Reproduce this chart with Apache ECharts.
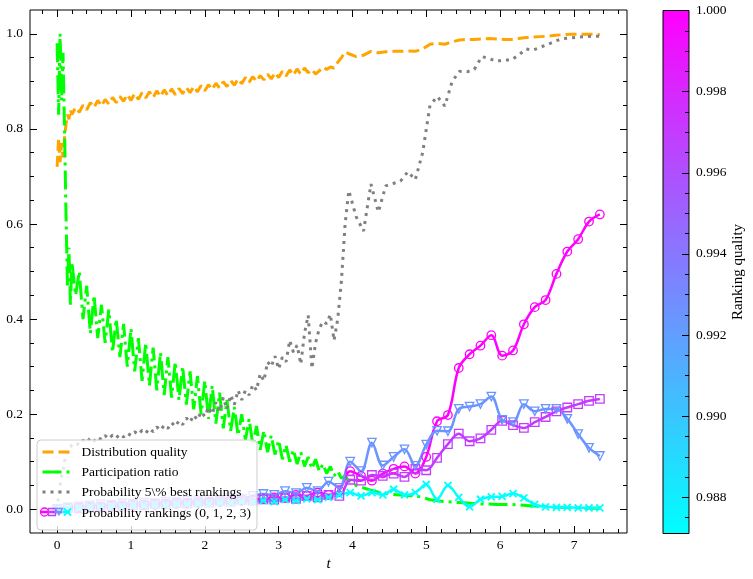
<!DOCTYPE html>
<html>
<head>
<meta charset="UTF-8">
<script src="https://cdn.jsdelivr.net/npm/echarts@6/dist/echarts.min.js"></script>
<style>
  html, body { margin: 0; padding: 0; background: #fff; }
  #chart { width: 753px; height: 579px; }
</style>
</head>
<body>
<div id="chart"></div>
<script>
// sample times of the noisy curves
var tDense = [0, 0.02, 0.04, 0.06, 0.08, 0.1, 0.12, 0.14, 0.16, 0.18, 0.2,
  0.25, 0.3, 0.35, 0.4, 0.45, 0.5, 0.55, 0.6, 0.65, 0.7, 0.75, 0.8, 0.85, 0.9, 0.95,
  1.0, 1.05, 1.1, 1.15, 1.2, 1.25, 1.3, 1.35, 1.4, 1.45, 1.5, 1.55, 1.6, 1.65, 1.7, 1.75, 1.8, 1.85, 1.9, 1.95,
  2.0, 2.05, 2.1, 2.15, 2.2, 2.25, 2.3, 2.35, 2.4, 2.45, 2.5, 2.55, 2.6, 2.65, 2.7, 2.75, 2.8, 2.85, 2.9, 2.95,
  3.0, 3.05, 3.1, 3.15, 3.2, 3.25, 3.3, 3.35, 3.4, 3.45, 3.5, 3.55, 3.6, 3.65, 3.7, 3.75, 3.8, 3.85, 3.9, 3.95,
  4.05, 4.15, 4.25, 4.35, 4.45, 4.55, 4.65, 4.75, 4.85, 4.95, 5.05, 5.15, 5.25, 5.35, 5.45, 5.55, 5.65,
  5.75, 5.85, 5.95, 6.05, 6.15, 6.25, 6.35, 6.45, 6.55, 6.65, 6.75, 6.85, 6.95, 7.05, 7.15, 7.25, 7.35];

var distQuality = [0.72, 0.78, 0.73, 0.77, 0.74, 0.78, 0.81, 0.83, 0.82, 0.84, 0.83,
  0.845, 0.835, 0.850, 0.840, 0.855, 0.845, 0.860, 0.848, 0.862, 0.852, 0.866, 0.855, 0.868, 0.858, 0.872,
  0.860, 0.874, 0.862, 0.876, 0.865, 0.878, 0.866, 0.880, 0.868, 0.882, 0.870, 0.884, 0.872, 0.885, 0.874, 0.887, 0.876, 0.889, 0.878, 0.891,
  0.880, 0.893, 0.883, 0.896, 0.886, 0.899, 0.889, 0.902, 0.892, 0.905, 0.895, 0.908, 0.898, 0.910, 0.900, 0.912, 0.903, 0.915, 0.905, 0.918,
  0.908, 0.921, 0.911, 0.924, 0.913, 0.926, 0.915, 0.928, 0.918, 0.925, 0.915, 0.922, 0.930, 0.925, 0.930, 0.928, 0.940, 0.950, 0.962, 0.958,
  0.952, 0.955, 0.963, 0.960, 0.962, 0.963, 0.963, 0.964, 0.963, 0.968, 0.978, 0.980, 0.978, 0.983, 0.987, 0.988, 0.988,
  0.989, 0.990, 0.989, 0.988, 0.988, 0.990, 0.992, 0.993, 0.994, 0.995, 0.997, 0.998, 0.999, 0.999, 0.999, 0.999, 0.998];

var partRatio = [0.98, 0.83, 1.00, 0.86, 0.96, 0.80, 0.62, 0.47, 0.55, 0.43, 0.52,
  0.45, 0.50, 0.40, 0.47, 0.37, 0.45, 0.36, 0.43, 0.35, 0.42, 0.33, 0.40, 0.32, 0.39, 0.30,
  0.38, 0.29, 0.36, 0.27, 0.35, 0.26, 0.34, 0.25, 0.33, 0.24, 0.32, 0.235, 0.31, 0.23, 0.30, 0.22, 0.29, 0.21, 0.28, 0.20,
  0.27, 0.19, 0.26, 0.18, 0.245, 0.17, 0.23, 0.165, 0.215, 0.155, 0.20, 0.145, 0.19, 0.135, 0.175, 0.125, 0.165, 0.12, 0.155, 0.115,
  0.145, 0.105, 0.135, 0.10, 0.125, 0.095, 0.12, 0.09, 0.11, 0.085, 0.105, 0.08, 0.095, 0.075, 0.09, 0.07, 0.08, 0.065, 0.07, 0.06,
  0.05, 0.045, 0.04, 0.036, 0.033, 0.031, 0.03, 0.029, 0.028, 0.025, 0.02, 0.018, 0.016, 0.015, 0.014, 0.013, 0.012,
  0.011, 0.011, 0.010, 0.010, 0.010, 0.009, 0.008, 0.007, 0.006, 0.005, 0.004, 0.004, 0.003, 0.003, 0.002, 0.002, 0.002];

var probBest = [0.00, 0.03, 0.05, 0.07, 0.08, 0.10, 0.11, 0.12, 0.125, 0.13, 0.135,
  0.140, 0.135, 0.145, 0.140, 0.150, 0.143, 0.152, 0.146, 0.155, 0.148, 0.156, 0.150, 0.158, 0.152, 0.160,
  0.155, 0.163, 0.157, 0.166, 0.160, 0.170, 0.163, 0.173, 0.166, 0.177, 0.170, 0.182, 0.174, 0.186, 0.178, 0.192, 0.183, 0.198, 0.188, 0.205,
  0.195, 0.215, 0.200, 0.225, 0.205, 0.235, 0.210, 0.240, 0.220, 0.250, 0.230, 0.250, 0.240, 0.262, 0.250, 0.285, 0.270, 0.310, 0.300, 0.322,
  0.295, 0.320, 0.310, 0.355, 0.330, 0.345, 0.305, 0.370, 0.408, 0.296, 0.350, 0.380, 0.395, 0.390, 0.410, 0.355, 0.400, 0.480, 0.600, 0.670,
  0.615, 0.585, 0.684, 0.625, 0.680, 0.685, 0.690, 0.710, 0.693, 0.750, 0.850, 0.868, 0.848, 0.900, 0.921, 0.920, 0.925,
  0.952, 0.948, 0.942, 0.945, 0.945, 0.955, 0.968, 0.966, 0.972, 0.978, 0.985, 0.990, 0.991, 0.993, 0.994, 0.995, 0.995];

// sample times of the ranking curves (one marker each)
var tRank = [0, 0.147, 0.294, 0.441, 0.588, 0.735, 0.882, 1.029, 1.176, 1.323, 1.47, 1.617, 1.764, 1.911,
  2.058, 2.205, 2.352, 2.499, 2.646, 2.793, 2.94, 3.087, 3.234, 3.381, 3.528, 3.675, 3.822, 3.969,
  4.116, 4.263, 4.41, 4.557, 4.704, 4.851, 4.998, 5.145, 5.292, 5.439, 5.586, 5.733, 5.88, 6.027,
  6.174, 6.321, 6.468, 6.615, 6.762, 6.909, 7.056, 7.203, 7.35];

var rank0 = [0.000, 0.002, 0.004, 0.003, 0.006, 0.005, 0.008, 0.007, 0.010, 0.009, 0.012, 0.011, 0.014, 0.013,
  0.016, 0.015, 0.018, 0.017, 0.020, 0.022, 0.025, 0.024, 0.030, 0.028, 0.035, 0.030, 0.040, 0.080,
  0.070, 0.060, 0.075, 0.085, 0.090, 0.075, 0.110, 0.185, 0.198, 0.297, 0.326, 0.344, 0.366, 0.323,
  0.334, 0.389, 0.425, 0.440, 0.495, 0.542, 0.568, 0.605, 0.620];
var rank1 = [0.000, 0.003, 0.002, 0.005, 0.004, 0.007, 0.006, 0.009, 0.008, 0.011, 0.010, 0.013, 0.012, 0.015,
  0.014, 0.017, 0.016, 0.019, 0.018, 0.021, 0.020, 0.024, 0.022, 0.028, 0.025, 0.030, 0.028, 0.062,
  0.060, 0.072, 0.070, 0.075, 0.068, 0.085, 0.082, 0.108, 0.137, 0.159, 0.143, 0.149, 0.167, 0.186,
  0.177, 0.171, 0.183, 0.194, 0.206, 0.214, 0.221, 0.228, 0.232];
var rank2 = [0.000, 0.004, 0.006, 0.008, 0.010, 0.009, 0.012, 0.011, 0.014, 0.013, 0.016, 0.015, 0.018, 0.017,
  0.020, 0.019, 0.024, 0.022, 0.028, 0.032, 0.030, 0.038, 0.034, 0.045, 0.038, 0.058, 0.045, 0.100,
  0.080, 0.140, 0.092, 0.110, 0.126, 0.091, 0.136, 0.165, 0.164, 0.211, 0.216, 0.221, 0.237, 0.188,
  0.183, 0.221, 0.206, 0.211, 0.211, 0.190, 0.158, 0.129, 0.112];
var rank3 = [0.000, 0.003, 0.002, 0.005, 0.004, 0.006, 0.005, 0.008, 0.007, 0.009, 0.008, 0.011, 0.010, 0.012,
  0.011, 0.014, 0.013, 0.016, 0.015, 0.018, 0.016, 0.020, 0.018, 0.022, 0.020, 0.025, 0.030, 0.035,
  0.028, 0.035, 0.030, 0.042, 0.030, 0.035, 0.052, 0.021, 0.050, 0.025, 0.005, 0.021, 0.026, 0.027,
  0.033, 0.024, 0.010, 0.005, 0.004, 0.004, 0.003, 0.003, 0.003];

// ranking quality of each ranking curve (colorbar value)
var rankQuality = [1.0, 0.997, 0.9925, 0.98711];
var cbMin = 0.98711, cbMax = 1.0;

// ticks
var xMajor = [0, 1, 2, 3, 4, 5, 6, 7];
var xMinor = [-0.2, 0.2, 0.4, 0.6, 0.8, 1.2, 1.4, 1.6, 1.8, 2.2, 2.4, 2.6, 2.8, 3.2, 3.4, 3.6, 3.8,
  4.2, 4.4, 4.6, 4.8, 5.2, 5.4, 5.6, 5.8, 6.2, 6.4, 6.6, 6.8, 7.2, 7.4, 7.6];
var yMajor = [0, 0.2, 0.4, 0.6, 0.8, 1.0];
var yMinor = [0.05, 0.1, 0.15, 0.25, 0.3, 0.35, 0.45, 0.5, 0.55, 0.65, 0.7, 0.75, 0.85, 0.9, 0.95];
var cbMajor = [0.988, 0.990, 0.992, 0.994, 0.996, 0.998, 1.000];
var cbMinor = [0.9875, 0.9885, 0.989, 0.9895, 0.9905, 0.991, 0.9915, 0.9925, 0.993, 0.9935,
  0.9945, 0.995, 0.9955, 0.9965, 0.997, 0.9975, 0.9985, 0.999, 0.9995];

var serif = '"Liberation Serif", "DejaVu Serif", serif';
var xMin = -0.3675, xMax = 7.7175, yMin = -0.05, yMax = 1.05;

function pairs(ts, vs) {
  return ts.map(function (t, i) { return [t, vs[i]]; });
}
// matplotlib "cool" colormap
function coolColor(q) {
  var f = (q - cbMin) / (cbMax - cbMin);
  f = Math.max(0, Math.min(1, f));
  return 'rgb(' + Math.round(255 * f) + ',' + Math.round(255 * (1 - f)) + ',255)';
}
var rc = rankQuality.map(coolColor);

function tickAxis(dim, grid, pos, vals, len, labels, extra) {
  var ax = {
    type: 'value', gridIndex: grid, position: pos,
    min: dim === 'x' ? xMin : yMin, max: dim === 'x' ? xMax : yMax,
    axisLine: { show: false, onZero: false }, splitLine: { show: false },
    axisTick: { show: true, inside: true, length: len, customValues: vals, lineStyle: { color: '#000', width: 1 } },
    axisLabel: { show: labels, customValues: vals, color: '#000', fontFamily: serif, fontSize: 13.5 },
    z: 5
  };
  return Object.assign(ax, extra || {});
}

var gridRect = { left: 30, top: 10, width: 597, height: 523 };
var cbRect = { left: 663, top: 10.5, width: 26, height: 523 };

var chart = echarts.init(document.getElementById('chart'));

var rankNames = ['Probability rankings (0, 1, 2, 3)', 'rank 1', 'rank 2', 'rank 3'];
var rankData = [rank0, rank1, rank2, rank3];
var rankSymbols = ['circle', 'rect', 'triangle', 'path://M0,0L10,10M10,0L0,10'];
var rankSeries = rankData.map(function (d, i) {
  return {
    type: 'line', name: rankNames[i], xAxisIndex: 0, yAxisIndex: 0,
    data: pairs(tRank, d), smooth: 0.35,
    symbol: rankSymbols[i], symbolSize: i === 3 ? 7 : 8.5, symbolRotate: i === 2 ? 180 : 0,
    showSymbol: true, showAllSymbol: true,
    lineStyle: { color: rc[i], width: 2.5 },
    itemStyle: { color: 'rgba(0,0,0,0)', borderColor: rc[i], borderWidth: i === 3 ? 1.8 : 1.3 },
    z: 3
  };
});

var ly = 440 + 5 + 3 * 20 + 7;  // centre of the 4th legend row
var legendIcon = [
  { type: 'line', shape: { x1: 41, y1: ly, x2: 48, y2: ly }, style: { stroke: rc[0], lineWidth: 2.5 } },
  { type: 'circle', shape: { cx: 44.5, cy: ly, r: 4 }, style: { stroke: rc[0], fill: 'rgba(0,0,0,0)', lineWidth: 1.3 } },
  { type: 'line', shape: { x1: 48, y1: ly, x2: 55, y2: ly }, style: { stroke: rc[1], lineWidth: 2.5 } },
  { type: 'rect', shape: { x: 48.5, y: ly - 3.5, width: 7, height: 7 }, style: { stroke: rc[1], fill: 'rgba(0,0,0,0)', lineWidth: 1.3 } },
  { type: 'line', shape: { x1: 55, y1: ly, x2: 62.5, y2: ly }, style: { stroke: rc[2], lineWidth: 2.5 } },
  { type: 'polygon', shape: { points: [[55.5, ly - 3.5], [62.5, ly - 3.5], [59, ly + 3]] }, style: { stroke: rc[2], fill: 'rgba(0,0,0,0)', lineWidth: 1.3 } },
  { type: 'line', shape: { x1: 62.5, y1: ly, x2: 70, y2: ly }, style: { stroke: rc[3], lineWidth: 2.5 } },
  { type: 'line', shape: { x1: 64, y1: ly - 3.5, x2: 71, y2: ly + 3.5 }, style: { stroke: rc[3], lineWidth: 1.8 } },
  { type: 'line', shape: { x1: 64, y1: ly + 3.5, x2: 71, y2: ly - 3.5 }, style: { stroke: rc[3], lineWidth: 1.8 } }
].map(function (g) { g.z = 100; return g; });

chart.setOption({
  animation: false,
  backgroundColor: '#fff',
  grid: [
    Object.assign({ show: true, borderColor: '#000', borderWidth: 1, z: 4 }, gridRect),
    Object.assign({}, gridRect),
    Object.assign({ show: true, borderColor: '#000', borderWidth: 1, z: 4 }, cbRect),
    Object.assign({}, cbRect)
  ],
  xAxis: [
    tickAxis('x', 0, 'bottom', xMajor, 7, true, {
      axisLabel: { customValues: xMajor, margin: 5, color: '#000', fontFamily: serif, fontSize: 13.5 },
      name: 't', nameLocation: 'middle', nameGap: 24,
      nameTextStyle: { fontFamily: serif, fontStyle: 'italic', fontSize: 15, color: '#000' }
    }),
    tickAxis('x', 0, 'top', xMajor, 7, false),
    tickAxis('x', 1, 'bottom', xMinor, 4, false),
    tickAxis('x', 1, 'top', xMinor, 4, false),
    { type: 'category', gridIndex: 2, data: ['cb'], show: false },
    { type: 'category', gridIndex: 3, data: ['cb'], show: false }
  ],
  yAxis: [
    tickAxis('y', 0, 'left', yMajor, 7, true, {
      axisLabel: { customValues: yMajor, margin: 7, color: '#000', fontFamily: serif, fontSize: 13.5,
        formatter: function (v) { return v.toFixed(1); } }
    }),
    tickAxis('y', 0, 'right', yMajor, 7, false),
    tickAxis('y', 1, 'left', yMinor, 4, false),
    tickAxis('y', 1, 'right', yMinor, 4, false),
    {
      type: 'value', gridIndex: 2, position: 'right', min: cbMin, max: cbMax, z: 5,
      axisLine: { show: false, onZero: false }, splitLine: { show: false },
      axisTick: { show: true, inside: true, length: 7, customValues: cbMajor, lineStyle: { color: '#000', width: 1 } },
      axisLabel: { customValues: cbMajor, margin: 7, color: '#000', fontFamily: serif, fontSize: 13.5,
        formatter: function (v) { return v.toFixed(3); } },
      name: 'Ranking quality', nameLocation: 'middle', nameGap: 42, nameRotate: 90,
      nameTextStyle: { fontFamily: serif, fontSize: 15, color: '#000' }
    },
    {
      type: 'value', gridIndex: 3, position: 'right', min: cbMin, max: cbMax, z: 5,
      axisLine: { show: false, onZero: false }, splitLine: { show: false }, axisLabel: { show: false },
      axisTick: { show: true, inside: true, length: 4, customValues: cbMinor, lineStyle: { color: '#000', width: 1 } }
    }
  ],
  legend: {
    orient: 'vertical', left: 37, top: 440,
    itemWidth: 28, itemHeight: 14, itemGap: 6,
    padding: [5, 6, 9, 4],
    backgroundColor: 'rgba(255,255,255,0.8)', borderColor: '#cccccc', borderWidth: 1, borderRadius: 4,
    selectedMode: false,
    textStyle: { fontFamily: serif, fontSize: 13.5, color: '#000', lineHeight: 14, padding: [0, 0, 0, 6] },
    data: [
      { name: 'Distribution quality', itemStyle: { opacity: 0 }, lineStyle: { width: 3 } },
      { name: 'Participation ratio', itemStyle: { opacity: 0 }, lineStyle: { width: 3 } },
      { name: 'Probability 5\\% best rankings', itemStyle: { opacity: 0 }, lineStyle: { width: 3 } },
      { name: 'Probability rankings (0, 1, 2, 3)', icon: 'rect', itemStyle: { opacity: 0 } }
    ],
    z: 20
  },
  graphic: legendIcon,
  series: [
    {
      type: 'line', name: 'Distribution quality', xAxisIndex: 0, yAxisIndex: 0,
      data: pairs(tDense, distQuality), symbol: 'none',
      lineStyle: { color: '#ffa500', width: 3, type: [11, 5] }, itemStyle: { color: '#ffa500' }, z: 2
    },
    {
      type: 'line', name: 'Participation ratio', xAxisIndex: 0, yAxisIndex: 0,
      data: pairs(tDense, partRatio), symbol: 'none',
      lineStyle: { color: '#00ff00', width: 3, type: [19, 5, 3, 5] }, itemStyle: { color: '#00ff00' }, z: 2
    },
    {
      type: 'line', name: 'Probability 5\\% best rankings', xAxisIndex: 0, yAxisIndex: 0,
      data: pairs(tDense, probBest), symbol: 'none',
      lineStyle: { color: '#808080', width: 3, type: [3, 5] }, itemStyle: { color: '#808080' }, z: 2
    }
  ].concat(rankSeries).concat([
    {
      type: 'bar', name: 'cb base', xAxisIndex: 4, yAxisIndex: 4, stack: 'cb', barWidth: '100%',
      data: [cbMin], itemStyle: { color: 'rgba(0,0,0,0)' }, silent: true
    },
    {
      type: 'bar', name: 'cb', xAxisIndex: 4, yAxisIndex: 4, stack: 'cb', barWidth: '100%',
      data: [cbMax - cbMin], silent: true,
      itemStyle: { color: new echarts.graphic.LinearGradient(0, 0, 0, 1, [
        { offset: 0, color: coolColor(cbMax) }, { offset: 1, color: coolColor(cbMin) }
      ]) }
    }
  ])
});
</script>
</body>
</html>
